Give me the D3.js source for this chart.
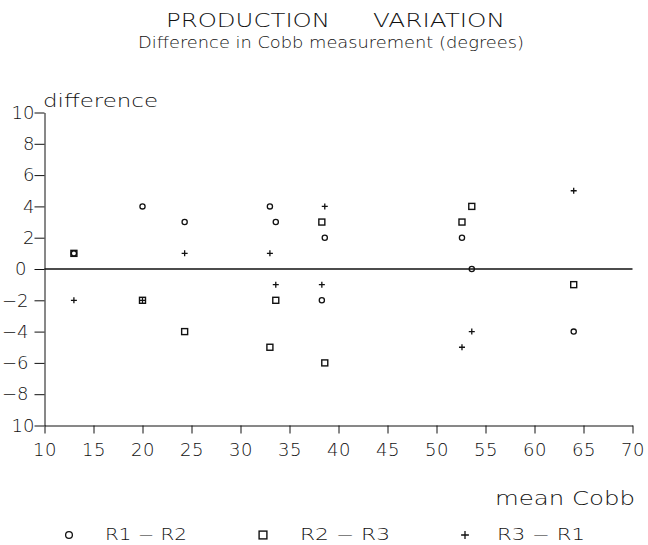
<!DOCTYPE html>
<html>
<head>
<meta charset="utf-8">
<script src="https://cdn.jsdelivr.net/npm/d3@7"></script>
<style>
  html, body { margin: 0; padding: 0; background: #fff; }
  svg { display: block; }
  text { font-family: "DejaVu Sans", "Liberation Sans", Arial, sans-serif; font-weight: 200; fill: #111; }
</style>
</head>
<body>
<svg id="chart" width="648" height="545"></svg>
<script>
// ---- data ----
const meanCobb = [13, 20, 24.3, 33, 33.6, 38.3, 38.6, 52.6, 53.6, 64];
const r1r2 = [1, 4, 3, 4, 3, -2, 2, 2, 0, -4];
const r2r3 = [1, -2, -4, -5, -2, 3, -6, 3, 4, -1];
const r3r1 = [-2, -2, 1, 1, -1, -1, 4, -5, -4, 5];
const seriesNames = ["R1  \u2212  R2", "R2  \u2212  R3", "R3  \u2212  R1"];
const seriesShapes = ["circle", "square", "plus"];
const xTicks = [10, 15, 20, 25, 30, 35, 40, 45, 50, 55, 60, 65, 70];
const yTicks = [10, 8, 6, 4, 2, 0, -2, -4, -6, -8, -10];
const yTickLabels = ["10", "8", "6", "4", "2", "0", "\u22122", "\u22124", "\u22126", "\u22128", "10"];
const titleWords = ["PRODUCTION", "VARIATION"];
const subtitle = "Difference in Cobb measurement (degrees)";
const yTitle = "difference";
const xTitle = "mean  Cobb";

const svg = d3.select("#chart");
const x = d3.scaleLinear().domain([10, 70]).range([44.5, 632.5]);
const y = d3.scaleLinear().domain([-10, 10]).range([425.5, 112.5]);

// title
const t = svg.append("text").attr("y", 27).attr("font-size", 19);
t.append("tspan").attr("x", 166).attr("textLength", 164).attr("lengthAdjust", "spacingAndGlyphs").text(titleWords[0]);
t.append("tspan").attr("x", 373).attr("textLength", 132).attr("lengthAdjust", "spacingAndGlyphs").text(titleWords[1]);
svg.append("text").attr("x", 138).attr("y", 48).attr("font-size", 15)
  .attr("textLength", 386).attr("lengthAdjust", "spacingAndGlyphs").text(subtitle);

// y axis
const yAxis = d3.axisLeft(y).tickValues(yTicks)
  .tickFormat(d => yTickLabels[yTicks.indexOf(d)])
  .tickSize(10).tickPadding(0).tickSizeOuter(0);
const gy = svg.append("g").attr("transform", "translate(44.5,0)").call(yAxis);
gy.selectAll("text").attr("font-size", 18).attr("font-family", null)
  .attr("fill", "#111")
  .attr("dx", d => (d > 0 || d === -10) ? 0 : (d === 0 ? -8 : -6));
gy.selectAll("line, path").attr("stroke", "#111");

// x axis
const xAxis = d3.axisBottom(x).tickValues(xTicks).tickFormat(d3.format("d"))
  .tickSize(8).tickPadding(10).tickSizeOuter(0);
const gx = svg.append("g").attr("transform", "translate(0,425.5)").call(xAxis);
gx.selectAll("text").attr("font-size", 18).attr("font-family", null)
  .attr("fill", "#111").attr("letter-spacing", 0.5);
gx.selectAll("line, path").attr("stroke", "#111");

// zero line
svg.append("line").attr("x1", x(10)).attr("x2", x(70)).attr("y1", y(0)).attr("y2", y(0))
  .attr("stroke", "#111").attr("stroke-width", 1.6);

// axis titles
svg.append("text").attr("x", 43).attr("y", 107).attr("font-size", 17)
  .attr("textLength", 115).attr("lengthAdjust", "spacingAndGlyphs").text(yTitle);
svg.append("text").attr("x", 495).attr("y", 505).attr("font-size", 19)
  .attr("textLength", 140).attr("lengthAdjust", "spacingAndGlyphs").text(xTitle);

// markers
function drawShape(g, shape, cx, cy, s) {
  if (shape === "circle") {
    g.append("circle").attr("cx", cx).attr("cy", cy).attr("r", 2.6 * s)
      .attr("fill", "none").attr("stroke", "#111").attr("stroke-width", 1.3);
  } else if (shape === "square") {
    g.append("rect").attr("x", cx - 3 * s).attr("y", cy - 3 * s).attr("width", 6 * s).attr("height", 6 * s)
      .attr("fill", "none").attr("stroke", "#111").attr("stroke-width", 1.4);
  } else {
    g.append("path").attr("d", `M${cx - 3 * s},${cy}H${cx + 3 * s}M${cx},${cy - 3 * s}V${cy + 3 * s}`)
      .attr("stroke", "#111").attr("stroke-width", 1.3).attr("fill", "none");
  }
}
const seriesData = [r1r2, r2r3, r3r1];
const gm = svg.append("g");
seriesData.forEach((vals, si) => {
  vals.forEach((v, i) => drawShape(gm, seriesShapes[si], x(meanCobb[i]), y(v), 1));
});

// legend
const legSym = [69, 263, 465];
const legTxt = [105, 300, 497];
const legLen = [82, 90, 88];
const gl = svg.append("g");
seriesNames.forEach((n, i) => {
  drawShape(gl, seriesShapes[i], legSym[i], 535, 1.3);
  gl.append("text").attr("x", legTxt[i]).attr("y", 540).attr("font-size", 15)
    .attr("textLength", legLen[i]).attr("lengthAdjust", "spacingAndGlyphs").text(n);
});
</script>
</body>
</html>
